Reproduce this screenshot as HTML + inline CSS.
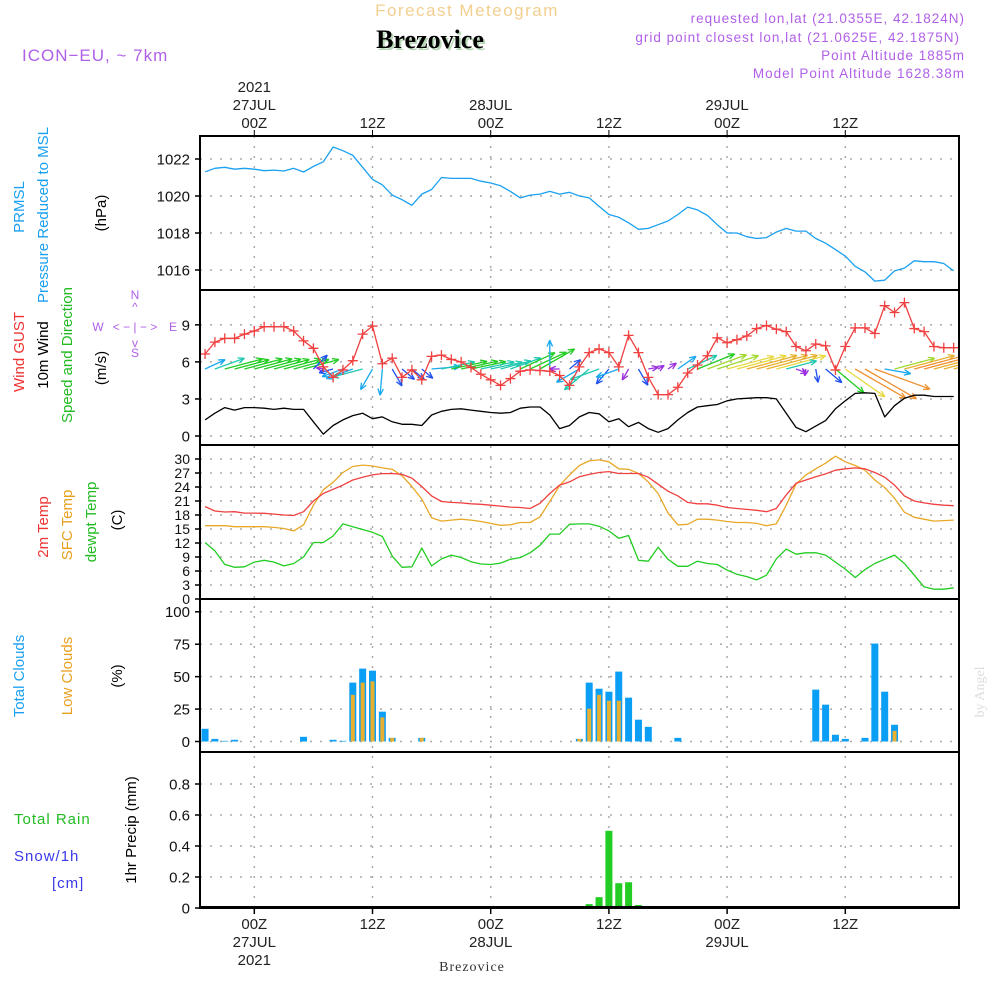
<!DOCTYPE html>
<html><head><meta charset="utf-8">
<style>
html,body{margin:0;padding:0;background:#fff;}
svg{display:block;}
text{font-family:"Liberation Sans",sans-serif;}
</style></head>
<body>
<svg id="chart" width="1000" height="1000" viewBox="0 0 1000 1000" xmlns="http://www.w3.org/2000/svg">
  <rect x="0" y="0" width="1000" height="1000" fill="#fff"/>
  <text x="467" y="16" text-anchor="middle" font-size="17" fill="#f3cf90" letter-spacing="1.5">Forecast Meteogram</text>
  <text x="432" y="50" text-anchor="middle" font-size="26" font-weight="bold" fill="#b8d8b8" style="font-family:'Liberation Serif',serif">Brezovice</text>
  <text x="430" y="48" text-anchor="middle" font-size="26" font-weight="bold" fill="#000" style="font-family:'Liberation Serif',serif">Brezovice</text>
  <text x="22" y="61" font-size="17" fill="#b060e8" letter-spacing="1">ICON−EU, ~ 7km</text>
  <g fill="#b060e8" font-size="13.5" text-anchor="end" letter-spacing="1">
    <text x="965" y="23">requested lon,lat (21.0355E, 42.1824N)</text>
    <text x="960" y="42">grid point closest lon,lat (21.0625E, 42.1875N)</text>
    <text x="965" y="60">Point Altitude 1885m</text>
    <text x="965" y="78">Model Point Altitude 1628.38m</text>
  </g>
  <g id="grid"></g>
  <g id="marks"></g>
  <g id="frames"></g>
  <g id="axes"></g>

  <g font-size="15">
    <text transform="translate(24,207) rotate(-90)" text-anchor="middle" fill="#1aa0f0">PRMSL</text>
    <text transform="translate(48,215) rotate(-90)" text-anchor="middle" fill="#1aa0f0">Pressure Reduced to MSL</text>
    <text transform="translate(106,213) rotate(-90)" text-anchor="middle" fill="#000">(hPa)</text>
    <text transform="translate(24,352) rotate(-90)" text-anchor="middle" fill="#ee3333">Wind GUST</text>
    <text transform="translate(48,355) rotate(-90)" text-anchor="middle" fill="#000">10m Wind</text>
    <text transform="translate(72,355) rotate(-90)" text-anchor="middle" fill="#22bb22">Speed and Direction</text>
    <text transform="translate(106,368) rotate(-90)" text-anchor="middle" fill="#000">(m/s)</text>
    <text transform="translate(48,527) rotate(-90)" text-anchor="middle" fill="#ee3333">2m Temp</text>
    <text transform="translate(72,525) rotate(-90)" text-anchor="middle" fill="#e8a020">SFC Temp</text>
    <text transform="translate(96,522) rotate(-90)" text-anchor="middle" fill="#22bb22">dewpt Temp</text>
    <text transform="translate(122,520) rotate(-90)" text-anchor="middle" fill="#000">(C)</text>
    <text transform="translate(24,676) rotate(-90)" text-anchor="middle" fill="#1aa0f0">Total Clouds</text>
    <text transform="translate(72,676) rotate(-90)" text-anchor="middle" fill="#e8a020">Low Clouds</text>
    <text transform="translate(122,676) rotate(-90)" text-anchor="middle" fill="#000">(%)</text>
    <text transform="translate(136,830) rotate(-90)" text-anchor="middle" fill="#000">1hr Precip (mm)</text>
    <text x="14" y="824" fill="#22bb22" letter-spacing="1">Total  Rain</text>
    <text x="14" y="861" fill="#3a3ae8" letter-spacing="1">Snow/1h</text>
    <text x="52" y="888" fill="#3a3ae8" letter-spacing="1">[cm]</text>
  </g>
  <g fill="#b060e8" font-size="12" text-anchor="middle">
    <text x="135" y="299">N</text><text x="135" y="311">^</text>
    <text x="135" y="331">&lt; − | − &gt;</text>
    <text x="98" y="331">W</text><text x="173" y="331">E</text>
    <text x="135" y="347">v</text><text x="135" y="357">S</text>
  </g>
  <text transform="translate(984,692) rotate(-90)" text-anchor="middle" font-size="14" fill="#dddddd" style="font-family:'Liberation Serif',serif">by Angel</text>
  <text x="472" y="971" text-anchor="middle" font-size="14" fill="#333" letter-spacing="1" style="font-family:'Liberation Serif',serif">Brezovice</text>
</svg>
<script>
const hours = [];
for (let h = -5; h <= 71; h++) hours.push(h);
const pressure = [1021.31,1021.5,1021.55,1021.45,1021.5,1021.45,1021.37,1021.4,1021.35,1021.5,1021.3,1021.6,1021.85,1022.65,1022.45,1022.2,1021.55,1020.9,1020.6,1020.05,1019.8,1019.5,1020.1,1020.35,1021.0,1020.95,1020.95,1020.95,1020.8,1020.7,1020.55,1020.25,1019.9,1020.05,1020.1,1020.25,1020.1,1020.2,1020.0,1019.9,1019.45,1019.0,1018.85,1018.55,1018.2,1018.25,1018.45,1018.65,1019.0,1019.4,1019.25,1018.95,1018.45,1018.0,1018.0,1017.8,1017.7,1017.75,1018.05,1018.25,1018.1,1018.1,1017.7,1017.45,1017.1,1016.75,1016.2,1015.9,1015.4,1015.45,1015.95,1016.1,1016.5,1016.45,1016.45,1016.35,1015.95];
const gust = [6.64,7.6,7.9,7.9,8.25,8.5,8.85,8.85,8.85,8.5,7.7,7.1,5.6,4.75,5.35,6.1,8.25,8.9,5.85,6.3,4.75,5.35,4.55,6.45,6.55,6.2,6.0,5.55,5.0,4.55,4.1,4.65,5.25,5.35,5.3,5.25,4.9,4.1,5.6,6.75,7.05,6.75,5.6,8.15,6.75,4.75,3.35,3.35,3.95,5.1,5.75,6.5,7.95,7.55,7.8,8.1,8.7,8.95,8.65,8.45,7.25,6.9,7.45,7.3,5.35,7.25,8.75,8.75,8.3,10.55,10.0,10.8,8.7,8.45,7.25,7.15,7.15];
const windSpeed = [1.3,1.85,2.3,2.1,2.3,2.3,2.25,2.15,2.25,2.15,2.15,1.15,0.15,0.85,1.3,1.65,1.85,1.4,1.55,1.15,0.95,0.95,0.85,1.7,2.0,2.15,2.2,2.1,2.0,1.9,1.85,1.9,2.25,2.35,2.35,1.7,0.6,0.85,1.55,1.9,1.8,1.15,1.4,0.75,1.1,0.6,0.3,0.6,1.3,1.9,2.35,2.45,2.55,2.85,3.0,3.05,3.1,3.1,3.0,1.85,0.7,0.35,0.8,1.25,2.2,2.85,3.45,3.5,3.45,1.55,2.45,3.05,3.3,3.3,3.2,3.2,3.2];
const windDir = [25,20,15,15,15,15,15,15,15,15,15,45,170,195,200,200,195,240,265,300,320,320,320,5,12,12,12,12,12,12,15,20,25,25,30,90,180,40,210,220,200,230,200,240,300,10,30,35,35,25,22,20,18,15,15,15,15,15,15,15,340,260,280,320,320,325,330,330,340,350,15,15,15,15,15,15,15];
const temp2m = [19.8,18.86,18.64,18.7,18.4,18.4,18.36,18.2,18.0,17.9,18.7,21,22.6,23.5,24.4,25.5,26.1,26.6,26.86,26.9,26.7,25.9,24.1,22.1,20.9,20.7,20.6,20.4,20.3,20.1,19.9,19.7,19.6,19.4,20.5,22.6,24.4,25.1,26.2,26.7,27.1,27.3,26.9,26.9,26.9,26.1,24.6,23.1,22.1,20.7,20.4,20.4,20.1,19.6,19.4,19.2,19.0,18.7,19.4,22.3,24.8,25.5,26.2,26.8,27.6,27.9,28.1,27.9,27.1,26.1,24.4,22.1,21,20.6,20.3,20.1,20.0];
const sfcTemp = [15.7,15.7,15.7,15.5,15.5,15.5,15.5,15.35,15.1,14.6,15.9,20.1,23.4,25,27.1,28.4,28.7,28.5,28.1,27.8,26.4,24.1,21.4,17.4,16.7,16.9,17.1,16.9,16.6,16.2,15.8,15.9,16.4,16.4,17.6,20.9,24.3,26.6,28.6,29.6,29.8,29.4,27.9,27.8,26.9,25.1,22.6,18.4,15.9,16.0,17.1,17.1,16.9,16.6,16.4,16.4,16.2,15.7,16.1,20.1,24.6,26.6,27.9,29.1,30.6,29.4,28.6,27.6,25.5,23.9,21.6,18.6,17.5,17.1,16.7,16.8,16.9];
const dewTemp = [12.1,10.3,7.4,6.8,6.9,7.9,8.3,7.9,7.1,7.6,9,12.1,12.1,13.5,16.1,15.5,14.9,14.3,13.4,9.2,6.8,6.9,10.9,7.1,8.6,9.4,8.9,8.0,7.5,7.4,7.7,8.5,8.9,9.9,11.5,13.9,13.9,16,16.1,16.1,15.6,14.6,13,13.6,8.3,8.1,11.1,8.5,7,7,8.1,7.6,7.4,6.2,5.3,4.8,4.1,5.1,8.6,10.7,9.6,9.9,9.9,9.4,7.9,6.4,4.6,6.3,7.6,8.5,9.4,7.6,5.1,2.6,2.1,2.1,2.4];
const totalClouds = [9.8,2,0.5,1.3,0,0, 0,0,0,0,3.6,0,0,1.3,0.5,45.4, 56.2,54.6,23,2.8,0,0,2.8,0,0,0, 0,0,0,0,0,0,0,0,0,0, 0,0,2,45.4,40.7,38.4,53.9,33.8,16.8,11.3, 0,0,2.8,0,0,0,0,0,0,0, 0,0,0,0,0,0,40,28.4,5.2,2, 0,2.8,75.5,38.4,12.9,0,0,0,0,0,0];
const lowClouds = [0,0,0,0,0,0, 0,0,0,0,0,0,0,0,0,36, 45.4,46.4,18.6,2.8,0,0,2.8,0,0,0, 0,0,0,0,0,0,0,0,0,0, 0,0,2,25.3,36,31.4,31.4,0,0,0, 0,0,0,0,0,0,0,0,0,0, 0,0,0,0,0,0,0,0,0,0, 0,0,0,0,8.2,0,0,0,0,0,0];
const precip = [0,0,0,0,0,0, 0,0,0,0,0,0,0,0,0,0, 0,0,0,0,0,0,0,0,0,0, 0,0,0,0,0,0,0,0,0,0, 0,0,0,0.025,0.07,0.498,0.16,0.166,0.019,0.013, 0,0,0,0,0,0,0,0,0,0, 0,0,0,0,0,0,0,0,0,0, 0,0,0,0,0,0,0,0,0,0,0];
const timeTicks = [0,12,24,36,48,60];
const timeTickLabels = ["00Z","12Z","00Z","12Z","00Z","12Z"];
const dateLabels = [[0,"27JUL"],[24,"28JUL"],[48,"29JUL"]];
const pressureTicks = [1016,1018,1020,1022];
const windTicks = [0,3,6,9];
const tempTicks = [0,3,6,9,12,15,18,21,24,27,30];
const cloudTicks = [0,25,50,75,100];
const precipTicks = [0,0.2,0.4,0.6,0.8];

const NS = "http://www.w3.org/2000/svg";
const L = 200, R = 959;
const panels = [[136,290],[290,445],[445,599],[599,752],[752,908]];
const X = h => 254.3 + 9.85 * h;
const Y1 = p => 159 + (1022 - p) * 18.5;
const Y2 = v => 436 - 12.35 * v;
const Y3 = t => 599 - 4.667 * t;
const Y4 = c => 741.5 - 1.297 * c;
const Y5 = r => 908 - 155 * r;

function mk(tag, attrs, parent, txt) {
  const e = document.createElementNS(NS, tag);
  for (const k in attrs) e.setAttribute(k, attrs[k]);
  if (txt !== undefined) e.textContent = txt;
  parent.appendChild(e);
  return e;
}
const grid = document.getElementById('grid');
const marks = document.getElementById('marks');
const frames = document.getElementById('frames');
const axes = document.getElementById('axes');

const defs = mk('defs', {}, document.getElementById('chart'));
const cp = mk('clipPath', {id: 'plotclip'}, defs);
mk('rect', {x: L, y: 136, width: R - L, height: 772}, cp);
marks.setAttribute('clip-path', 'url(#plotclip)');

timeTicks.forEach((t, i) => {
  const x = X(t);
  const gl = mk('line', {x1: x, x2: x, y1: 136, y2: 908, stroke: '#aaa', 'stroke-width': 1.5, 'stroke-dasharray': '2 8'}, grid);
  
  
  mk('line', {x1: x, x2: x, y1: 130, y2: 136, stroke: '#000', 'stroke-width': 1}, axes);
  mk('line', {x1: x, x2: x, y1: 908, y2: 914, stroke: '#000', 'stroke-width': 1.5}, axes);
  const tt = mk('text', {x: x, y: 128, 'text-anchor': 'middle', 'font-size': 15, fill: '#222'}, axes, timeTickLabels[i]);
  
  
  const bt = mk('text', {x: x, y: 929, 'text-anchor': 'middle', 'font-size': 15, fill: '#222'}, axes, timeTickLabels[i]);
  
  
});
dateLabels.forEach(d => {
  const x = X(d[0]);
  const t1 = mk('text', {x: x, y: 110, 'text-anchor': 'middle', 'font-size': 15, fill: '#222'}, axes, d[1]);
  
  
  const t2 = mk('text', {x: x, y: 947, 'text-anchor': 'middle', 'font-size': 15, fill: '#222'}, axes, d[1]);
  
  
});
const y1 = mk('text', {x: X(0), y: 92, 'text-anchor': 'middle', 'font-size': 15, fill: '#222'}, axes, '2021');


const y2 = mk('text', {x: X(0), y: 965, 'text-anchor': 'middle', 'font-size': 15, fill: '#222'}, axes, '2021');



function yAxis(ticks, fn, fmt, fs, name) {
  ticks.forEach(v => {
    const y = fn(v);
    const g = mk('line', {x1: L, x2: R, y1: y, y2: y, stroke: '#aaa', 'stroke-width': 1.5, 'stroke-dasharray': '2 8'}, grid);
    
    
    mk('line', {x1: L - 5, x2: L, y1: y, y2: y, stroke: '#000', 'stroke-width': 1.5}, axes);
    const t = mk('text', {x: L - 10, y: y + fs * 0.36, 'text-anchor': 'end', 'font-size': fs, fill: '#111'}, axes, fmt(v));
    
    
  });
}
yAxis(pressureTicks, Y1, v => String(v), 15, 'pressure');
yAxis(windTicks, Y2, v => String(v), 15, 'wind');
yAxis(tempTicks, Y3, v => String(v), 14, 'temp');
yAxis(cloudTicks, Y4, v => String(v), 15, 'cloud');
yAxis(precipTicks, Y5, v => v === 0 ? '0' : v.toFixed(1), 15, 'precip');

function line(vals, fn, color, name, w) {
  const d = vals.map((v, i) => (i ? 'L' : 'M') + X(hours[i]).toFixed(1) + ' ' + fn(v).toFixed(1)).join(' ');
  const p = mk('path', {d: d, fill: 'none', stroke: color, 'stroke-width': w || 1.3, 'stroke-linejoin': 'round'}, marks);
  
  
  return p;
}
line(pressure, Y1, '#1aa0f0', 'pressure-line');

hours.forEach((h, i) => {
  const x = X(h);
  if (totalClouds[i] > 0) {
    const b = mk('rect', {x: x - 3.5, y: Y4(totalClouds[i]), width: 7, height: Y4(0) - Y4(totalClouds[i]), fill: '#0a9ef5'}, marks);
    
    
  }
  if (lowClouds[i] > 0) {
    const b = mk('rect', {x: x - 2, y: Y4(lowClouds[i]), width: 4, height: Y4(0) - Y4(lowClouds[i]), fill: '#e8b030'}, marks);
    
    
  }
  if (precip[i] > 0) {
    const b = mk('rect', {x: x - 3.5, y: Y5(precip[i]), width: 7, height: Y5(0) - Y5(precip[i]), fill: '#22cc22'}, marks);
    
    
  }
});

function speedColor(s) {
  if (s < 0.8) return '#9a30e0';
  if (s < 1.3) return '#2050f0';
  if (s < 1.75) return '#18a8f0';
  if (s < 2.1) return '#20c8b0';
  if (s < 2.45) return '#22cc22';
  if (s < 2.75) return '#a0d830';
  if (s < 3.05) return '#e8d840';
  if (s < 3.25) return '#e8b030';
  return '#f09030';
}
hours.forEach((h, i) => {
  const s = windSpeed[i], a = windDir[i] * Math.PI / 180;
  const len = Math.max(7, 17 * s);
  const x0 = X(h), y0 = 369;
  const x1 = x0 + len * Math.cos(a), y1 = y0 - len * Math.sin(a);
  const c = speedColor(s);
  const g = mk('g', {stroke: c, 'stroke-width': 1.3, fill: 'none'}, marks);
  
  
  mk('line', {x1: x0, y1: y0, x2: x1, y2: y1}, g);
  const hl = 7;
  [0.4, -0.4].forEach(o => {
    mk('line', {x1: x1, y1: y1, x2: x1 - hl * Math.cos(a + o), y2: y1 + hl * Math.sin(a + o)}, g);
  });
});

line(windSpeed, Y2, '#000', 'wind-speed-line');
line(gust, Y2, '#f04040', 'gust-line');
hours.forEach((h, i) => {
  const x = X(h), y = Y2(gust[i]);
  const m = mk('path', {d: `M${x - 5} ${y}H${x + 5}M${x} ${y - 5}V${y + 5}`, stroke: '#f04040', 'stroke-width': 1.3}, marks);
  
  
});

line(sfcTemp, Y3, '#e8a828', 'sfc-temp-line');
line(temp2m, Y3, '#f04040', 'temp-2m-line');
line(dewTemp, Y3, '#22cc22', 'dewpoint-line');

mk('line', {x1: L, x2: R, y1: 907, y2: 907, stroke: '#000', 'stroke-width': 2}, marks);

panels.forEach((p, i) => {
  const r = mk('rect', {x: L, y: p[0], width: R - L, height: p[1] - p[0], fill: 'none', stroke: '#000', 'stroke-width': 2}, frames);
  
  
});
</script>
</body></html>
